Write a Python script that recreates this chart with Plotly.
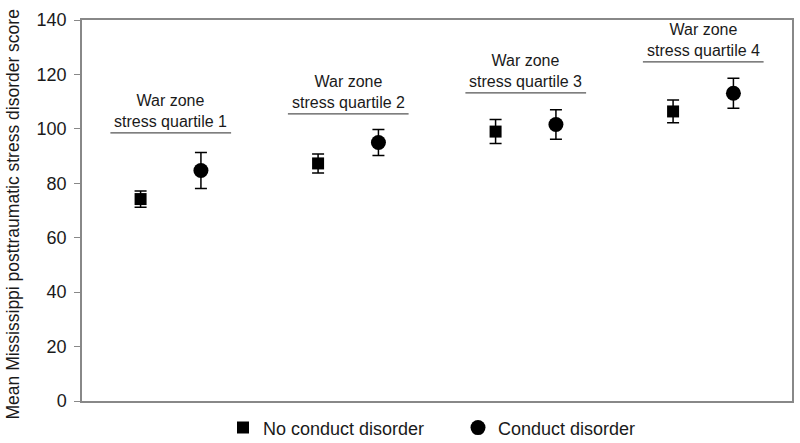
import plotly.graph_objects as go

groups = ["War zone<br>stress quartile 1", "War zone<br>stress quartile 2",
          "War zone<br>stress quartile 3", "War zone<br>stress quartile 4"]
no_cd_mean = [74.2, 87.3, 99.0, 106.4]
no_cd_err = [3.0, 3.5, 4.4, 4.2]
cd_mean = [84.7, 95.0, 101.6, 113.1]
cd_err = [6.6, 4.8, 5.4, 5.5]
label_y = [98.5, 105.5, 113.2, 124.6]
y_ticks = [0, 20, 40, 60, 80, 100, 120, 140]
y_title = "Mean Mississippi posttraumatic stress disorder score"

centers = [i + 0.5 for i in range(len(groups))]
off = 0.17
font = "Liberation Sans, Arial, sans-serif"
txt = "#1a1a1a"

fig = go.Figure()
fig.add_trace(go.Scatter(
    x=[c - off for c in centers], y=no_cd_mean, mode="markers",
    name="No conduct disorder",
    marker=dict(symbol="square", size=12, color="black"),
    error_y=dict(type="data", array=no_cd_err, color="black", thickness=1.5, width=6),
))
fig.add_trace(go.Scatter(
    x=[c + off for c in centers], y=cd_mean, mode="markers",
    name="Conduct disorder",
    marker=dict(symbol="circle", size=15, color="black"),
    error_y=dict(type="data", array=cd_err, color="black", thickness=1.5, width=6),
))

for c, ly, g in zip(centers, label_y, groups):
    fig.add_shape(type="line", xref="x", yref="y", x0=c - 0.34, x1=c + 0.34,
                  y0=ly, y1=ly, line=dict(color="#555", width=1.2))
    fig.add_annotation(x=c, y=ly, xref="x", yref="y", text=g, showarrow=False,
                       yanchor="bottom", yshift=1,
                       font=dict(family=font, size=16, color=txt))

fig.add_annotation(x=0, y=0.5, xref="paper", yref="paper", text=y_title,
                   textangle=-90, showarrow=False, xanchor="center", yanchor="middle",
                   xshift=-70, yshift=-4,
                   font=dict(family=font, size=17.5, color=txt))

fig.update_layout(
    width=800, height=443,
    margin=dict(l=82, r=8, t=20, b=42, autoexpand=False),
    plot_bgcolor="white", paper_bgcolor="white",
    font=dict(family=font, color=txt),
    showlegend=True,
    legend=dict(orientation="h", x=(223 - 82) / 710, xanchor="left", y=-0.022, yanchor="top",
                font=dict(family=font, size=18, color=txt),
                itemwidth=30, tracegroupgap=0, entrywidthmode="pixels", entrywidth=190),
    xaxis=dict(range=[0, 4], showticklabels=False, ticks="", showgrid=False, automargin=False,
               zeroline=False, showline=True, linecolor="#888", linewidth=1.5, mirror=True),
    yaxis=dict(range=[0, 140], tickvals=y_ticks, ticks="outside", ticklen=6, automargin=False,
               tickcolor="#888", showgrid=False, zeroline=False, showline=True,
               linecolor="#888", linewidth=1.5, mirror=True, ticklabelstandoff=4,
               tickfont=dict(family=font, size=18, color=txt)),
)

fig.write_html("out.html", config={"displayModeBar": False},
               post_script="document.body.style.margin='0';document.body.style.overflow='hidden';")
